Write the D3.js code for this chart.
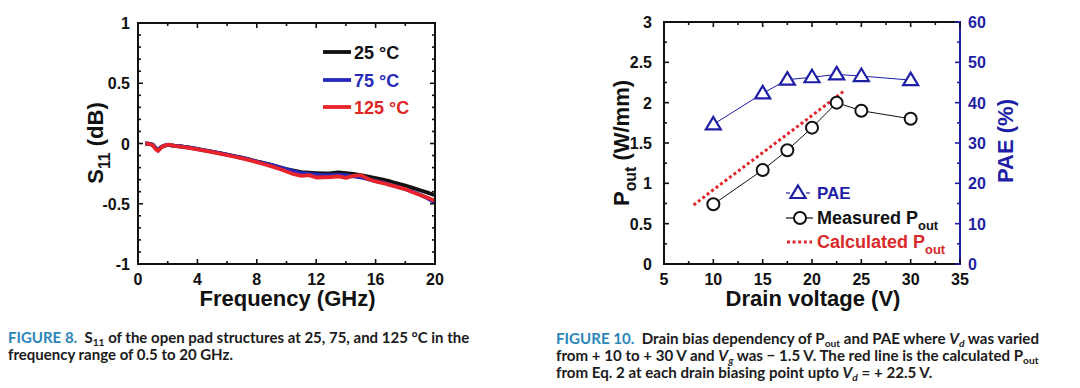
<!DOCTYPE html>
<html><head><meta charset="utf-8">
<script src="https://cdn.jsdelivr.net/npm/d3@7"></script>
<style>
html,body{margin:0;padding:0;background:#fff;}
svg{display:block;}
text{white-space:pre;}
</style></head>
<body>
<svg id="c" width="1080" height="388"></svg>
<script>
// ---------- Data: Figure 8 (S11 vs frequency) ----------
const freqGHz = [0.5,0.75,1.0,1.2,1.35,1.5,1.7,2.0,2.25,2.5,3,3.5,4,4.5,5,5.5,6,6.5,7,7.5,8,8.5,9,9.5,10,10.5,11,11.5,12,12.5,13,13.5,14,14.5,15,15.5,16,16.5,17,17.5,18,18.5,19,19.5,20];
const s11_25C = [0.000,-0.002,-0.010,-0.040,-0.055,-0.035,-0.020,-0.012,-0.015,-0.020,-0.025,-0.035,-0.045,-0.058,-0.068,-0.080,-0.092,-0.105,-0.118,-0.132,-0.148,-0.162,-0.178,-0.195,-0.212,-0.225,-0.238,-0.242,-0.245,-0.248,-0.246,-0.240,-0.245,-0.252,-0.262,-0.275,-0.288,-0.300,-0.315,-0.332,-0.350,-0.368,-0.388,-0.408,-0.430];
const s11_75C = [0.000,-0.003,-0.012,-0.042,-0.058,-0.038,-0.022,-0.012,-0.015,-0.020,-0.025,-0.035,-0.046,-0.058,-0.069,-0.080,-0.093,-0.106,-0.120,-0.133,-0.150,-0.164,-0.180,-0.198,-0.215,-0.232,-0.245,-0.252,-0.258,-0.262,-0.262,-0.258,-0.265,-0.272,-0.282,-0.295,-0.312,-0.325,-0.342,-0.360,-0.380,-0.400,-0.425,-0.455,-0.490];
const s11_125C = [0.000,-0.004,-0.015,-0.048,-0.062,-0.042,-0.022,-0.010,-0.014,-0.022,-0.028,-0.038,-0.048,-0.060,-0.072,-0.084,-0.097,-0.110,-0.124,-0.138,-0.155,-0.172,-0.190,-0.210,-0.232,-0.255,-0.268,-0.262,-0.282,-0.280,-0.278,-0.272,-0.285,-0.268,-0.262,-0.295,-0.315,-0.328,-0.345,-0.362,-0.378,-0.405,-0.428,-0.450,-0.475];
const s11Labels = ["25 °C","75 °C","125 °C"];
const fig8XTicks = [0,4,8,12,16,20];
const fig8YTicks = [-1,-0.5,0,0.5,1];

// ---------- Data: Figure 10 (Pout / PAE vs drain voltage) ----------
const drainV = [10,15,17.5,20,22.5,25,30];
const poutMeasured = [0.74,1.165,1.41,1.69,2.0,1.90,1.80];
const paePct = [34.6,42.3,45.7,46.3,47.0,46.6,45.6];
const calcV = [8,10,15,20,23.3];
const poutCalc = [0.73,0.92,1.38,1.84,2.15];
const fig10XTicks = [5,10,15,20,25,30,35];
const fig10YTicks = [0,0.5,1,1.5,2,2.5,3];
const fig10Y2Ticks = [0,10,20,30,40,50,60];

const FONT = "'Liberation Sans', Arial, Helvetica, sans-serif";
const CAP = "Lato, 'Open Sans', sans-serif";
const BLUE = "#1f1fa6";
const TICK = 16;
const svg = d3.select("#c");

// rich text helper
function rich(textSel, parts, size, subShift, subScale){
  const ss = subShift===undefined ? 0.32 : subShift;
  const sc = subScale===undefined ? 0.72 : subScale;
  let shift = 0;
  parts.forEach(p=>{
    const ts = textSel.append("tspan").text(p.t);
    const target = p.sub ? size*ss : 0;
    if (target !== shift){ ts.attr("dy", target - shift); shift = target; }
    if (p.sub) ts.attr("font-size", size*sc);
    if (p.it) ts.attr("font-style","italic");
    if (p.fill) ts.attr("fill", p.fill);
  });
  return textSel;
}

function frameTicks(g, scale, orient, x0, y0, major, minor, lenMaj, lenMin, color){
  const all = minor.map(v=>({v, m:false})).concat(major.map(v=>({v,m:true})));
  all.forEach(d=>{
    const L = d.m ? lenMaj : lenMin;
    const p = scale(d.v);
    let x1,y1,x2,y2;
    if (orient==='bottom'){x1=x2=p;y1=y0;y2=y0-L;}
    if (orient==='top'){x1=x2=p;y1=y0;y2=y0+L;}
    if (orient==='left'){y1=y2=p;x1=x0;x2=x0+L;}
    if (orient==='right'){y1=y2=p;x1=x0;x2=x0-L;}
    g.append("line").attr("x1",x1).attr("y1",y1).attr("x2",x2).attr("y2",y2)
      .attr("stroke",color).attr("stroke-width",1.6);
  });
}
function range(a,b,s){const r=[];for(let v=a;v<=b+1e-9;v+=s)r.push(+v.toFixed(6));return r;}

// ================= Figure 8 =================
{
  const x = d3.scaleLinear().domain([0,20]).range([138,435]);
  const y = d3.scaleLinear().domain([-1,1]).range([264,23]);
  const g = svg.append("g");
  const series = [
    {v:s11_25C, c:"#111111"},
    {v:s11_75C, c:"#2727c4"},
    {v:s11_125C, c:"#e8242a"}
  ];
  const line = d3.line().x((d,i)=>x(freqGHz[i])).y(d=>y(d)).curve(d3.curveLinear);
  series.forEach(s=>{
    g.append("path").attr("d", line(s.v)).attr("fill","none")
      .attr("stroke", s.c).attr("stroke-width",3.8).attr("stroke-linejoin","round");
  });
  g.append("rect").attr("x",x(0)).attr("y",y(1)).attr("width",x(20)-x(0)).attr("height",y(-1)-y(1))
    .attr("fill","none").attr("stroke","#111").attr("stroke-width",2);
  const xMin = range(0,20,2).filter(v=>!fig8XTicks.includes(v));
  const yMin = range(-1,1,0.1).filter(v=>!fig8YTicks.some(t=>Math.abs(t-v)<1e-6));
  frameTicks(g,x,'bottom',0,y(-1),fig8XTicks,xMin,5,3,"#111");
  frameTicks(g,x,'top',0,y(1),fig8XTicks,xMin,5,3,"#111");
  frameTicks(g,y,'left',x(0),0,fig8YTicks,yMin,5,3,"#111");
  frameTicks(g,y,'right',x(20),0,fig8YTicks,yMin,5,3,"#111");
  fig8XTicks.forEach(t=>{
    g.append("text").attr("x",x(t)).attr("y",285).attr("text-anchor","middle")
      .attr("font-family",FONT).attr("font-weight","bold").attr("font-size",TICK).attr("fill","#111").text(t);
  });
  fig8YTicks.forEach(t=>{
    g.append("text").attr("x",130).attr("y",y(t)+6).attr("text-anchor","end")
      .attr("font-family",FONT).attr("font-weight","bold").attr("font-size",TICK).attr("fill","#111").text(String(t));
  });
  g.append("text").attr("x",(x(0)+x(20))/2+1).attr("y",306).attr("text-anchor","middle")
    .attr("font-family",FONT).attr("font-weight","bold").attr("font-size",22).attr("fill","#111").text("Frequency (GHz)");
  const yl = g.append("text").attr("transform","translate(103,143) rotate(-90)").attr("text-anchor","middle")
    .attr("font-family",FONT).attr("font-weight","bold").attr("font-size",22).attr("fill","#111");
  rich(yl,[{t:"S"},{t:"11",sub:true},{t:" (dB)"}],22);
  const legY = [52,80,107];
  const legC = ["#111111","#2727c4","#e8242a"];
  const legT = ["#111111","#2a2ab8","#e02626"];
  s11Labels.forEach((lab,i)=>{
    g.append("line").attr("x1",323).attr("x2",351).attr("y1",legY[i]).attr("y2",legY[i])
      .attr("stroke",legC[i]).attr("stroke-width",3.8);
    g.append("text").attr("x",354).attr("y",legY[i]+6.5).attr("font-family",FONT).attr("font-weight","bold")
      .attr("font-size",18).attr("fill",legT[i]).text(lab);
  });
}

// ================= Figure 10 =================
{
  const x = d3.scaleLinear().domain([5,35]).range([664,960]);
  const y = d3.scaleLinear().domain([0,3]).range([264,22]);
  const y2 = d3.scaleLinear().domain([0,60]).range([264,22]);
  const g = svg.append("g");
  g.append("line").attr("x1",x(5)).attr("x2",x(35)).attr("y1",y(0)).attr("y2",y(0)).attr("stroke","#111").attr("stroke-width",2);
  g.append("line").attr("x1",x(5)).attr("x2",x(35)).attr("y1",y(3)).attr("y2",y(3)).attr("stroke","#111").attr("stroke-width",2);
  g.append("line").attr("x1",x(5)).attr("x2",x(5)).attr("y1",y(0)+1).attr("y2",y(3)-1).attr("stroke","#111").attr("stroke-width",2);
  g.append("line").attr("x1",x(35)).attr("x2",x(35)).attr("y1",y(0)+1).attr("y2",y(3)-1).attr("stroke",BLUE).attr("stroke-width",2);
  const xMin = range(7.5,32.5,5);
  const yMin = range(0.25,2.75,0.5);
  const y2Min = range(5,55,10);
  frameTicks(g,x,'bottom',0,y(0),fig10XTicks,xMin,5,3,"#111");
  frameTicks(g,x,'top',0,y(3),fig10XTicks,xMin,5,3,"#111");
  frameTicks(g,y,'left',x(5),0,fig10YTicks,yMin,5,3,"#111");
  frameTicks(g,y2,'right',x(35),0,fig10Y2Ticks,y2Min,5,3,BLUE);

  const lc = d3.line().x((d,i)=>x(calcV[i])).y(d=>y(d));
  g.append("path").attr("d",lc(poutCalc)).attr("fill","none").attr("stroke","#e0262c")
    .attr("stroke-width",3).attr("stroke-dasharray","3,2.6");
  const lp = d3.line().x((d,i)=>x(drainV[i])).y(d=>y2(d));
  g.append("path").attr("d",lp(paePct)).attr("fill","none").attr("stroke",BLUE).attr("stroke-width",1);
  const lm = d3.line().x((d,i)=>x(drainV[i])).y(d=>y(d));
  g.append("path").attr("d",lm(poutMeasured)).attr("fill","none").attr("stroke","#111").attr("stroke-width",1);
  const tri = "M0,-7.5L7.5,5L-7.5,5Z";
  paePct.forEach((v,i)=>{
    g.append("path").attr("d",tri).attr("transform",`translate(${x(drainV[i])},${y2(v)})`)
      .attr("fill","#fff").attr("stroke",BLUE).attr("stroke-width",2.2);
  });
  poutMeasured.forEach((v,i)=>{
    g.append("circle").attr("cx",x(drainV[i])).attr("cy",y(v)).attr("r",6)
      .attr("fill","#fff").attr("stroke","#111").attr("stroke-width",2);
  });
  fig10XTicks.forEach(t=>{
    g.append("text").attr("x",x(t)).attr("y",285).attr("text-anchor","middle")
      .attr("font-family",FONT).attr("font-weight","bold").attr("font-size",TICK).attr("fill","#111").text(t);
  });
  fig10YTicks.forEach(t=>{
    g.append("text").attr("x",652).attr("y",y(t)+6).attr("text-anchor","end")
      .attr("font-family",FONT).attr("font-weight","bold").attr("font-size",TICK).attr("fill","#111").text(t);
  });
  fig10Y2Ticks.forEach(t=>{
    g.append("text").attr("x",968).attr("y",y2(t)+6).attr("text-anchor","start")
      .attr("font-family",FONT).attr("font-weight","bold").attr("font-size",TICK).attr("fill",BLUE).text(t);
  });
  g.append("text").attr("x",813).attr("y",306).attr("text-anchor","middle")
    .attr("font-family",FONT).attr("font-weight","bold").attr("font-size",22).attr("fill","#111").text("Drain voltage (V)");
  const yl = g.append("text").attr("transform","translate(629,143) rotate(-90)").attr("text-anchor","middle")
    .attr("font-family",FONT).attr("font-weight","bold").attr("font-size",22).attr("fill","#111");
  rich(yl,[{t:"P"},{t:"out",sub:true},{t:" (W/mm)"}],22);
  g.append("text").attr("transform","translate(1013,141) rotate(-90)").attr("text-anchor","middle")
    .attr("font-family",FONT).attr("font-weight","bold").attr("font-size",22).attr("fill",BLUE).text("PAE (%)");

  g.append("line").attr("x1",786).attr("x2",790).attr("y1",193).attr("y2",193).attr("stroke",BLUE).attr("stroke-width",1.2);
  g.append("line").attr("x1",806).attr("x2",810).attr("y1",193).attr("y2",193).attr("stroke",BLUE).attr("stroke-width",1.2);
  g.append("path").attr("d",tri).attr("transform","translate(798,193)").attr("fill","#fff").attr("stroke",BLUE).attr("stroke-width",2.2);
  g.append("text").attr("x",817).attr("y",199).attr("font-family",FONT).attr("font-weight","bold").attr("font-size",17).attr("fill",BLUE).text("PAE");
  g.append("line").attr("x1",786).attr("x2",813).attr("y1",218).attr("y2",218).attr("stroke","#111").attr("stroke-width",1.2);
  g.append("circle").attr("cx",800).attr("cy",218).attr("r",6).attr("fill","#fff").attr("stroke","#111").attr("stroke-width",2);
  const t2 = g.append("text").attr("x",817).attr("y",224).attr("font-family",FONT).attr("font-weight","bold").attr("font-size",18).attr("fill","#111");
  rich(t2,[{t:"Measured P"},{t:"out",sub:true}],18);
  g.append("line").attr("x1",787).attr("x2",812).attr("y1",242).attr("y2",242).attr("stroke","#e0262c")
    .attr("stroke-width",3).attr("stroke-dasharray","3,2.6");
  const t3 = g.append("text").attr("x",817).attr("y",248).attr("font-family",FONT).attr("font-weight","bold").attr("font-size",18).attr("fill","#d92a2a");
  rich(t3,[{t:"Calculated P"},{t:"out",sub:true}],18);
}

// ================= Captions =================
function caption(x0, y0, lines, size){
  lines.forEach((parts,i)=>{
    const t = svg.append("text").attr("x",x0).attr("y",y0+i*17).attr("font-family",CAP)
      .attr("font-weight","bold").attr("font-size",size).attr("fill","#1b1b1b");
    rich(t, parts, size, 0.18, 0.68);
  });
}
const TEAL = "#2b86b9";
caption(8, 343, [
  [{t:"FIGURE 8.",fill:TEAL},{t:"  S"},{t:"11",sub:true},{t:" of the open pad structures at 25, 75, and 125 °C in the"}],
  [{t:"frequency range of 0.5 to 20 GHz."}]
], 15);
caption(556, 344, [
  [{t:"FIGURE 10.",fill:TEAL},{t:"  Drain bias dependency of P"},{t:"out",sub:true},{t:" and PAE where "},{t:"V",it:true},{t:"d",sub:true,it:true},{t:" was varied"}],
  [{t:"from + 10 to + 30 V and "},{t:"V",it:true},{t:"g",sub:true,it:true},{t:" was − 1.5 V. The red line is the calculated P"},{t:"out",sub:true}],
  [{t:"from Eq. 2 at each drain biasing point upto "},{t:"V",it:true},{t:"d",sub:true,it:true},{t:" = + 22.5 V."}]
], 15.1);
</script>
</body></html>
